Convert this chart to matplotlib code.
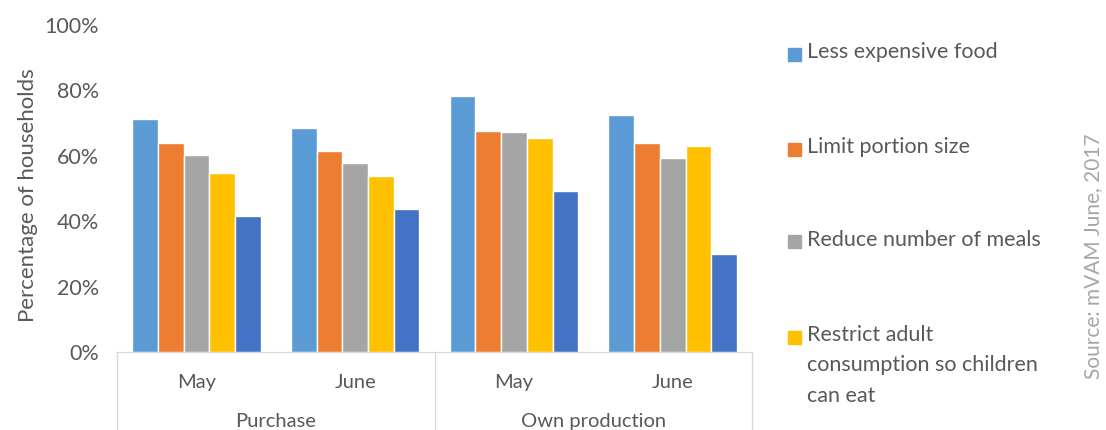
import numpy as np
import matplotlib
matplotlib.use('Agg')
import matplotlib.pyplot as plt
import matplotlib.transforms as mtransforms
from matplotlib.patches import Rectangle

# data
months = ['May', 'June', 'May', 'June']
groups = ['Purchase', 'Own production']
series_names = ['Less expensive food', 'Limit portion size', 'Reduce number of meals',
                'Restrict adult\nconsumption so children\ncan eat', 'Other strategy']
less_expensive = [71.1, 68.4, 78.1, 72.3]
limit_portion = [63.7, 61.3, 67.5, 63.7]
reduce_meals = [60.1, 57.8, 67.1, 59.4]
restrict_adult = [54.6, 53.9, 65.3, 62.9]
other_strategy = [41.6, 43.6, 49.1, 29.9]
colors = ['#5B9BD5', '#ED7D31', '#A5A5A5', '#FFC000', '#4472C4']
legend_count = 4  # only four entries are visible in the reference

plt.rcParams['font.family'] = ['Lato', 'DejaVu Sans']
txt_col = '#595959'

fig = plt.figure(figsize=(11.06, 4.30), dpi=100)
ax = fig.add_axes([0.1058, 0.1814, 0.5742, 0.7612])

values = [less_expensive, limit_portion, reduce_meals, restrict_adult, other_strategy]
x = np.arange(len(months))
n = len(values)
bw = 0.81 / n
for i, vals in enumerate(values):
    ax.bar(x + (i - (n - 1) / 2) * bw, np.array(vals) / 100, bw, color=colors[i],
           edgecolor='white', linewidth=1.0)

ax.set_xlim(-0.5, len(months) - 0.5)
ax.set_ylim(0, 1)
ax.set_yticks(np.arange(0, 1.01, 0.2))
ax.set_yticklabels([f'{int(round(v * 100))}%' for v in np.arange(0, 1.01, 0.2)])
ax.tick_params(axis='y', length=0, pad=13, labelsize=15.5, labelcolor=txt_col)
ax.set_xticks([])
for s in ['top', 'right', 'left']:
    ax.spines[s].set_visible(False)
ax.spines['bottom'].set_color('#D9D9D9')
ax.set_ylabel('Percentage of households', fontsize=16, color=txt_col)
ax.yaxis.set_label_coords(-0.125, 0.48)

# multi-level category axis
trans = mtransforms.blended_transform_factory(ax.transData, fig.transFigure)
for xi, m in zip(x, months):
    ax.text(xi, 0.0977, m, transform=trans, ha='center', va='baseline',
            fontsize=14.5, color=txt_col)
for gi, g in enumerate(groups):
    ax.text(gi * 2 + 0.5, 0.007, g, transform=trans, ha='center', va='baseline',
            fontsize=14.5, color=txt_col)
for b in [-0.5, 1.5, 3.5]:
    ax.plot([b, b], [0, 0.1814], transform=trans, color='#D9D9D9', lw=1.0, clip_on=False)

# legend drawn by hand to keep the wide spacing of the original
leg_centers = [54, 149, 242, 337]
for i in range(legend_count):
    yc = 1 - leg_centers[i] / 430
    fig.patches.append(Rectangle((788 / 1106, yc - 6.5 / 430), 13 / 1106, 13 / 430,
                                 transform=fig.transFigure, color=colors[i]))
    fig.text(807 / 1106, yc + 12 / 430, series_names[i], ha='left', va='top',
             fontsize=15.5, color=txt_col, linespacing=1.65)

fig.text(1093 / 1106, 1 - 256 / 430, 'Source: mVAM June, 2017', rotation=90,
         ha='center', va='center', fontsize=15, color='#A6A6A6')

fig.savefig('out.png', dpi=100)
